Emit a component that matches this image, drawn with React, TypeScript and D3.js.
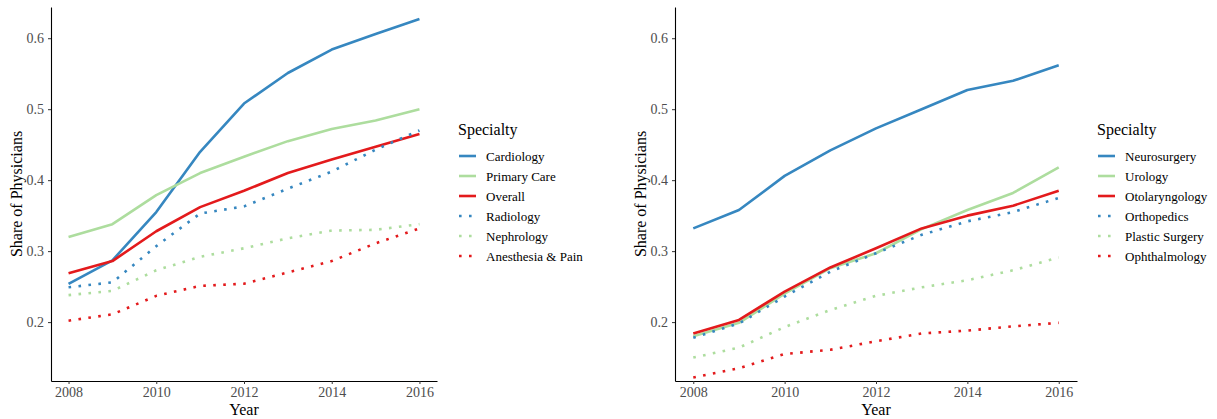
import React, { useEffect, useRef } from 'react';
import * as d3 from 'd3';

const years = [2008, 2009, 2010, 2011, 2012, 2013, 2014, 2015, 2016];
const xTicks = [2008, 2010, 2012, 2014, 2016];
const yTicks = [0.2, 0.3, 0.4, 0.5, 0.6];

// left panel
const cardiology = [0.254, 0.287, 0.355, 0.44, 0.508, 0.551, 0.584, 0.606, 0.627];
const primaryCare = [0.32, 0.338, 0.379, 0.41, 0.433, 0.455, 0.472, 0.484, 0.5];
const overall = [0.269, 0.286, 0.328, 0.362, 0.385, 0.41, 0.429, 0.447, 0.465];
const radiology = [0.249, 0.256, 0.307, 0.353, 0.363, 0.388, 0.412, 0.443, 0.47];
const nephrology = [0.238, 0.244, 0.273, 0.292, 0.304, 0.318, 0.329, 0.33, 0.338];
const anesthesia = [0.202, 0.211, 0.237, 0.251, 0.254, 0.27, 0.286, 0.311, 0.332];

// right panel
const neurosurgery = [0.332, 0.358, 0.406, 0.442, 0.473, 0.5, 0.527, 0.54, 0.562];
const urology = [0.18, 0.199, 0.24, 0.276, 0.297, 0.331, 0.358, 0.382, 0.418];
const otolaryngology = [0.184, 0.203, 0.243, 0.277, 0.304, 0.332, 0.35, 0.364, 0.385];
const orthopedics = [0.178, 0.198, 0.236, 0.271, 0.297, 0.323, 0.342, 0.355, 0.375];
const plasticSurgery = [0.15, 0.164, 0.193, 0.217, 0.237, 0.249, 0.259, 0.273, 0.291];
const ophthalmology = [0.122, 0.135, 0.155, 0.161, 0.173, 0.184, 0.188, 0.194, 0.199];

const leftNames = ['Cardiology', 'Primary Care', 'Overall', 'Radiology', 'Nephrology', 'Anesthesia & Pain'];
const rightNames = ['Neurosurgery', 'Urology', 'Otolaryngology', 'Orthopedics', 'Plastic Surgery', 'Ophthalmology'];

const BLUE = '#3687c0';
const GREEN = '#addd9e';
const RED = '#e31a1c';
const colors = [BLUE, GREEN, RED, BLUE, GREEN, RED];
const dotted = [false, false, false, true, true, true];

const FONT = "'Liberation Serif', 'DejaVu Serif', serif";

function drawPanel(svg, names, series, box) {
  const x = d3.scaleLinear().domain([2007.6, 2016.4]).range([box.x0, box.x1]);
  const y = d3.scaleLinear().domain([0.117, 0.644]).range([381, 7]);

  const g = svg.append('g');

  // axes
  const ya = g.append('g')
    .attr('transform', `translate(${box.x0},0)`)
    .call(d3.axisLeft(y).tickValues(yTicks).tickSize(3).tickSizeOuter(0).tickPadding(4).tickFormat(d3.format('.1f')));
  const xa = g.append('g')
    .attr('transform', `translate(0,381)`)
    .call(d3.axisBottom(x).tickValues(xTicks).tickSize(3).tickSizeOuter(0).tickPadding(3).tickFormat(d3.format('d')));
  [ya, xa].forEach(a => {
    a.select('.domain').attr('stroke', '#000').attr('stroke-width', 1.1);
    a.selectAll('.tick line').attr('stroke', '#333').attr('stroke-width', 1);
    a.selectAll('.tick text').attr('fill', '#4d4d4d').style('font-family', FONT).style('font-size', '14px');
  });

  // lines
  const line = d3.line().x((d, i) => x(years[i])).y(d => y(d));
  series.forEach((s, k) => {
    g.append('path')
      .datum(s)
      .attr('d', line)
      .attr('fill', 'none')
      .attr('stroke', colors[k])
      .attr('stroke-width', dotted[k] ? 2.6 : 2.6)
      .attr('stroke-dasharray', dotted[k] ? '2.6 7.4' : null)
      .attr('stroke-linejoin', 'round');
  });

  // titles
  g.append('text')
    .attr('x', (box.x0 + box.x1) / 2)
    .attr('y', 415)
    .attr('text-anchor', 'middle')
    .style('font-family', FONT)
    .style('font-size', '16px')
    .text('Year');
  g.append('text')
    .attr('transform', `translate(${box.x0 - 29},194) rotate(-90)`)
    .attr('text-anchor', 'middle')
    .style('font-family', FONT)
    .style('font-size', '16px')
    .text('Share of Physicians');

  // legend
  const lg = g.append('g').attr('transform', `translate(${box.legX},0)`);
  lg.append('text')
    .attr('x', 0)
    .attr('y', 135)
    .style('font-family', FONT)
    .style('font-size', '16px')
    .text('Specialty');
  names.forEach((n, k) => {
    const cy = 156 + k * 20;
    lg.append('line')
      .attr('x1', 1).attr('x2', 18)
      .attr('y1', cy).attr('y2', cy)
      .attr('stroke', colors[k])
      .attr('stroke-width', 2.6)
      .attr('stroke-dasharray', dotted[k] ? '2.6 7.4' : null);
    lg.append('text')
      .attr('x', 28)
      .attr('y', cy + 4.5)
      .style('font-family', FONT)
      .style('font-size', '13px')
      .text(n);
  });
}

export default function App() {
  const ref = useRef(null);

  useEffect(() => {
    const svg = d3.select(ref.current);
    svg.selectAll('*').remove();

    drawPanel(svg, leftNames, [cardiology, primaryCare, overall, radiology, nephrology, anesthesia],
      { x0: 51, x1: 437, legX: 458 });
    drawPanel(svg, rightNames, [neurosurgery, urology, otolaryngology, orthopedics, plasticSurgery, ophthalmology],
      { x0: 675, x1: 1077, legX: 1097 });
  }, []);

  return (
    <svg
      ref={ref}
      width={1217}
      height={419}
      style={{ position: 'absolute', left: 0, top: 0, background: '#fff' }}
    />
  );
}
